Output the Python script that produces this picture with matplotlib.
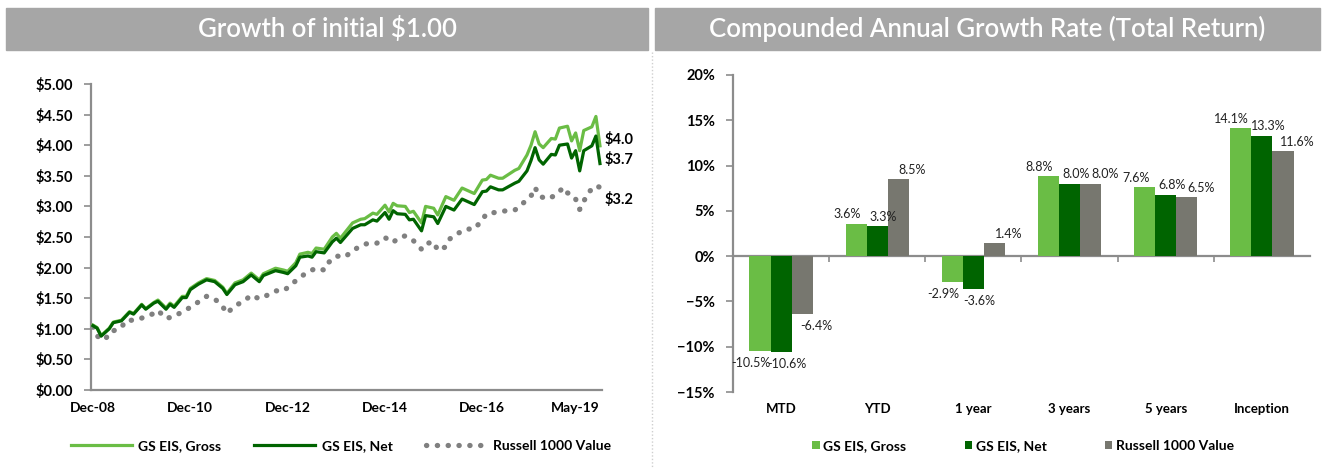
import matplotlib
matplotlib.use("Agg")
import matplotlib.pyplot as plt
from matplotlib.patches import Rectangle
from matplotlib.lines import Line2D
from matplotlib.ticker import FuncFormatter, PercentFormatter

plt.rcParams['font.family'] = ['Lato', 'DejaVu Sans']

# ---------------- data: growth of $1 (month index from Dec-08) ----------------
net_months = [0, 1, 2, 4, 5, 7, 9, 10, 12, 13, 15, 16, 18, 19, 20, 22, 23, 24, 26, 28,
              30, 32, 33, 35, 37, 39, 41, 42, 45, 47, 48, 50, 51, 53, 54, 55, 57, 59, 60, 61,
              64, 66, 67, 69, 70, 72, 73, 74, 75, 77, 78, 79, 81, 82, 84, 85, 87, 89, 91, 94,
              96, 97, 98, 100, 101, 104, 105, 107, 108, 109, 110, 111, 113, 114, 115, 117, 118,
              119, 120, 121, 123, 124, 125]
net_values = [1.05, 1.01, 0.88, 1.00, 1.10, 1.13, 1.27, 1.24, 1.39, 1.32, 1.42, 1.45, 1.32, 1.40,
              1.35, 1.51, 1.51, 1.64, 1.73, 1.80, 1.77, 1.66, 1.56, 1.72, 1.77, 1.88, 1.77, 1.87,
              1.95, 1.92, 1.90, 2.03, 2.17, 2.19, 2.17, 2.26, 2.24, 2.42, 2.48, 2.41, 2.64, 2.70,
              2.70, 2.78, 2.76, 2.90, 2.79, 2.93, 2.88, 2.87, 2.78, 2.79, 2.60, 2.85, 2.83, 2.72,
              3.00, 2.94, 3.12, 3.03, 3.24, 3.25, 3.32, 3.27, 3.27, 3.38, 3.41, 3.58, 3.75, 3.96,
              3.76, 3.69, 3.85, 3.84, 4.00, 4.02, 3.79, 3.91, 3.58, 3.91, 3.99, 4.15, 3.70]
gross_months = net_months
gross_values = [1.06, 1.02, 0.89, 1.01, 1.11, 1.14, 1.28, 1.25, 1.40, 1.33, 1.43, 1.47, 1.34, 1.42,
                1.37, 1.53, 1.53, 1.66, 1.75, 1.82, 1.79, 1.68, 1.58, 1.75, 1.80, 1.91, 1.80, 1.90,
                1.99, 1.96, 1.94, 2.08, 2.22, 2.25, 2.23, 2.32, 2.30, 2.50, 2.56, 2.48, 2.73, 2.79,
                2.80, 2.89, 2.87, 3.02, 2.91, 3.05, 3.01, 3.00, 2.90, 2.92, 2.73, 3.00, 2.97, 2.86,
                3.16, 3.10, 3.30, 3.21, 3.43, 3.44, 3.51, 3.46, 3.46, 3.59, 3.62, 3.84, 4.00, 4.22,
                4.02, 3.96, 4.11, 4.10, 4.28, 4.31, 4.07, 4.20, 3.91, 4.24, 4.30, 4.47, 3.99]
russell_months = [0, 1, 3, 4, 7, 8, 11, 13, 15, 16, 18, 20, 22, 24, 26, 28, 30, 32, 33, 35,
                  37, 39, 41, 43, 45, 47, 49, 51, 53, 55, 57, 58, 60, 62, 64, 66, 68, 70, 72, 74,
                  75, 77, 79, 81, 82, 84, 85, 87, 88, 90, 92, 94, 96, 97, 99, 102, 104, 106, 108,
                  109, 110, 112, 114, 116, 117, 118, 119, 120, 121, 122, 124, 125]
russell_values = [1.03, 0.88, 0.82, 0.94, 1.02, 1.13, 1.15, 1.20, 1.25, 1.30, 1.17, 1.20, 1.28,
                  1.35, 1.44, 1.53, 1.49, 1.36, 1.25, 1.38, 1.44, 1.55, 1.49, 1.55, 1.62, 1.62,
                  1.73, 1.84, 1.93, 1.99, 1.96, 2.08, 2.19, 2.17, 2.27, 2.36, 2.40, 2.40, 2.49,
                  2.41, 2.47, 2.52, 2.44, 2.30, 2.39, 2.42, 2.28, 2.34, 2.47, 2.56, 2.63, 2.63,
                  2.78, 2.88, 2.90, 2.93, 2.94, 3.05, 3.17, 3.31, 3.17, 3.12, 3.18, 3.31, 3.22,
                  3.20, 3.12, 2.95, 3.08, 3.22, 3.34, 3.31]
end_labels = ["$4.0", "$3.7", "$3.2"]
line_tick_pos = [0, 24, 48, 72, 96, 125]
line_tick_labels = ["Dec-08", "Dec-10", "Dec-12", "Dec-14", "Dec-16", "May-19"]

# ---------------- data: CAGR bars ----------------
periods = ["MTD", "YTD", "1 year", "3 years", "5 years", "Inception"]
cagr_gross = [-10.5, 3.6, -2.9, 8.8, 7.6, 14.1]
cagr_net = [-10.6, 3.3, -3.6, 8.0, 6.8, 13.3]
cagr_russell = [-6.4, 8.5, 1.4, 8.0, 6.5, 11.6]

series_names = ["GS EIS, Gross", "GS EIS, Net", "Russell 1000 Value"]
C_GROSS = "#6abd45"
C_NET = "#006400"
C_RUS_LINE = "#808080"
C_RUS_BAR = "#77776f"
AXIS_C = "#8c8c8c"
HEADER_C = "#a6a6a6"

W, H = 1325, 468
fig = plt.figure(figsize=(W / 100, H / 100), dpi=100)

def fx(px):
    return px / W

def fy(py):
    return 1 - py / H

# header bars
for x0, x1, title in [(6, 648, "Growth of initial \\$1.00"),
                      (655, 1320, "Compounded Annual Growth Rate (Total Return)")]:
    fig.patches.append(Rectangle((fx(x0), fy(50)), fx(x1 - x0), 42 / H,
                                 transform=fig.transFigure, color=HEADER_C, zorder=0))
    fig.text(fx((x0 + x1) / 2), fy(29), title, color="white", fontsize=18.5,
             fontweight="semibold", ha="center", va="center")

# divider
fig.lines.append(Line2D([fx(652), fx(652)], [fy(52), fy(468)], transform=fig.transFigure,
                        color="#cfcfcf", lw=1.0, linestyle=(0, (1, 1.5))))

# ---------------- left chart ----------------
ax1 = fig.add_axes([fx(91), fy(390), fx(602 - 91), (390 - 84) / H])
ax1.plot(russell_months, russell_values, color=C_RUS_LINE, lw=3.8,
         linestyle=(0, (0.05, 2.0)), dash_capstyle="round", label=series_names[2], zorder=2)
ax1.plot(gross_months, gross_values, color=C_GROSS, lw=2.3, label=series_names[0], zorder=3)
ax1.plot(net_months, net_values, color=C_NET, lw=2.3, label=series_names[1], zorder=4)

ax1.set_xlim(-0.5, 125.5)
ax1.set_ylim(0, 5)
ax1.set_yticks([i * 0.5 for i in range(11)])
ax1.yaxis.set_major_formatter(FuncFormatter(lambda v, p: f"${v:.2f}"))
ax1.set_xticks(line_tick_pos)
ax1.set_xticklabels(line_tick_labels)
xt = ax1.get_xticklabels()
xt[-1].set_ha("right")
for s in ["top", "right"]:
    ax1.spines[s].set_visible(False)
for s in ["left", "bottom"]:
    ax1.spines[s].set_color(AXIS_C)
    ax1.spines[s].set_linewidth(1.6)
ax1.tick_params(axis="y", length=5, width=1.2, color=AXIS_C, labelsize=10.5, pad=8)
ax1.tick_params(axis="x", length=0, labelsize=10, pad=9)
for t in ax1.get_yticklabels() + ax1.get_xticklabels():
    t.set_fontweight("bold")

ends = [(gross_months[-1], gross_values[-1], 6), (net_months[-1], net_values[-1], 4),
        (russell_months[-1], russell_values[-1], -12)]
for (xm, yv, dy), lab in zip(ends, end_labels):
    ax1.annotate(lab.replace("$", "\\$"), (xm, yv), xytext=(5, dy), textcoords="offset pixels",
                 ha="left", va="center", fontsize=10.5, fontweight="bold", color="black")

h, l = ax1.get_legend_handles_labels()
order = [1, 2, 0]
fig.legend([h[i] for i in order], [l[i] for i in order], loc="center",
           bbox_to_anchor=(fx(341), fy(446)), ncol=3, frameon=False,
           handlelength=4.4, columnspacing=2.4, handletextpad=0.45,
           prop={"weight": "bold", "size": 10})

# ---------------- right chart ----------------
ax2 = fig.add_axes([fx(733), fy(392), fx(1310 - 733), (392 - 75) / H])
xs = list(range(len(periods)))
bw = 0.22
b1 = ax2.bar([x - bw for x in xs], cagr_gross, bw, color=C_GROSS, label=series_names[0])
b2 = ax2.bar(xs, cagr_net, bw, color=C_NET, label=series_names[1])
b3 = ax2.bar([x + bw for x in xs], cagr_russell, bw, color=C_RUS_BAR, label=series_names[2])
for bars, dx in ((b1, -9), (b2, 6), (b3, 14)):
    for r in bars:
        v = r.get_height()
        ax2.annotate(f"{v:.1f}%", (r.get_x() + r.get_width() / 2, v),
                     xytext=(dx, 3.5 if v >= 0 else -6), textcoords="offset pixels",
                     ha="center", va="bottom" if v >= 0 else "top",
                     fontsize=9, color="#222222")
ymin, ymax = -15, 20
ax2.set_ylim(ymin, ymax)
ax2.set_xlim(-0.5, len(periods) - 0.5)
ax2.set_yticks(range(-15, 21, 5))
ax2.yaxis.set_major_formatter(PercentFormatter(decimals=0))
ax2.set_xticks(xs)
ax2.set_xticklabels(periods)
for s in ["top", "right", "bottom"]:
    ax2.spines[s].set_visible(False)
ax2.spines["left"].set_color(AXIS_C)
ax2.spines["left"].set_linewidth(1.6)
ax2.tick_params(axis="y", length=5, width=1.2, color=AXIS_C, labelsize=10.5, pad=8)
ax2.tick_params(axis="x", length=0, labelsize=9.5, pad=8)
for t in ax2.get_yticklabels() + ax2.get_xticklabels():
    t.set_fontweight("bold")
zero = ax2.secondary_xaxis((0 - ymin) / (ymax - ymin))
zero.set_xticks([x + 0.5 for x in xs[:-1]])
zero.set_xticklabels([])
zero.spines["bottom"].set_color(AXIS_C)
zero.spines["bottom"].set_linewidth(1.6)
zero.tick_params(axis="x", length=4, width=1.2, color=AXIS_C, direction="out")

fig.legend([b1, b2, b3], series_names, loc="center", bbox_to_anchor=(fx(1023), fy(446)),
           ncol=3, frameon=False, handlelength=0.55, handleheight=0.55, handletextpad=0.25,
           columnspacing=4.2, prop={"weight": "bold", "size": 10})

fig.savefig("out.png", dpi=100)
